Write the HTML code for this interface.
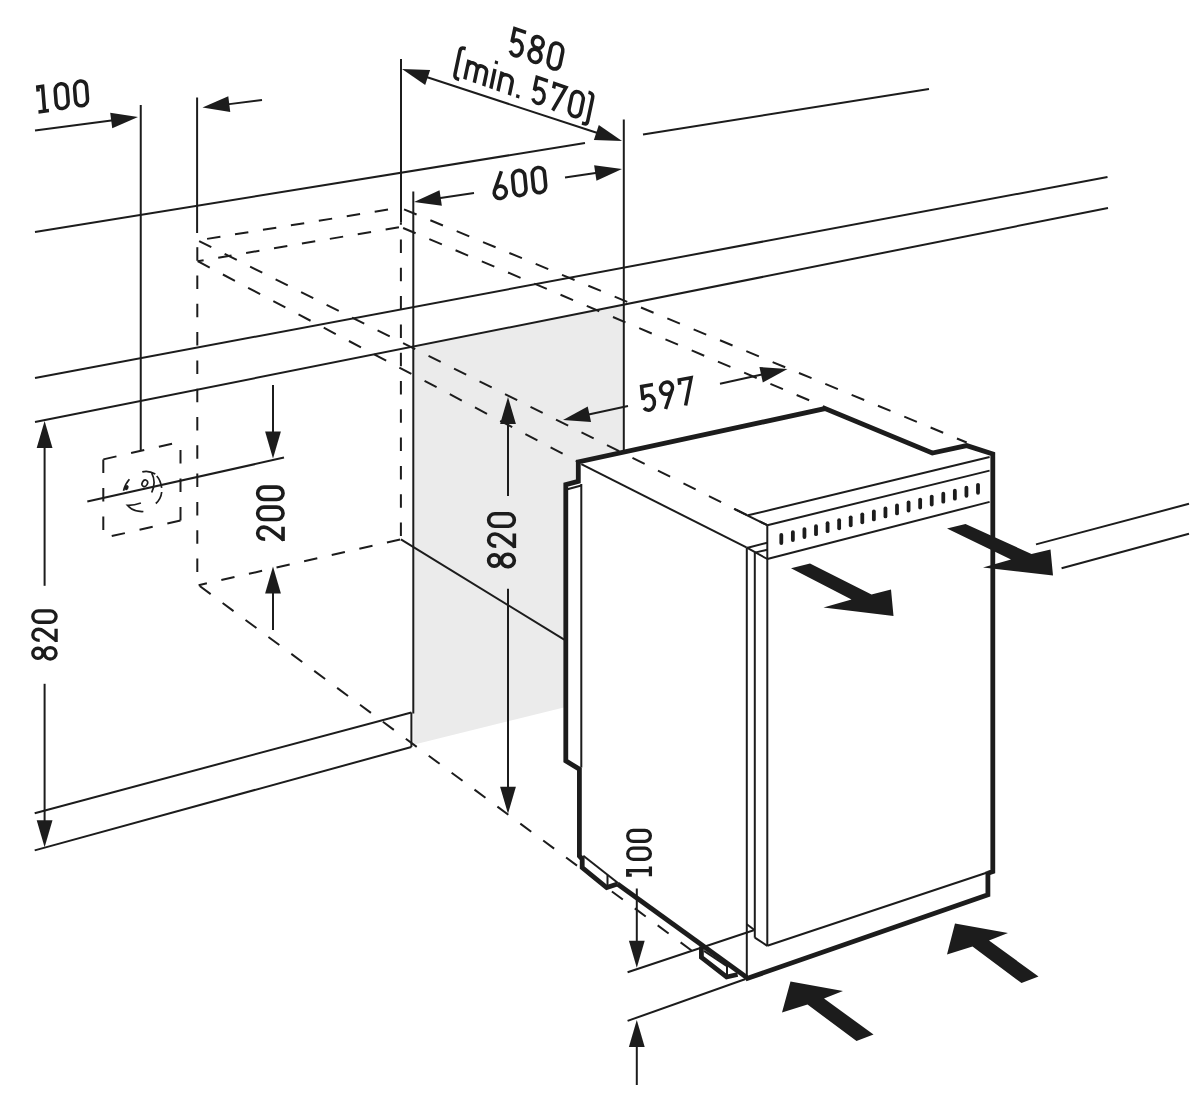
<!DOCTYPE html>
<html><head><meta charset="utf-8"><style>
html,body{margin:0;padding:0;background:#fff;}
svg{display:block;}
text{font-family:"Liberation Sans",sans-serif;fill:#1c1c1c;}
</style></head><body>
<svg width="1200" height="1096" viewBox="0 0 1200 1096">
<g stroke="#1c1c1c" fill="none" stroke-linecap="butt" stroke-linejoin="miter">
<polygon points="413.3,346.6 623.8,304.5 623.8,452.5 578.3,462 578.3,481.3 565.8,484.7 565.8,707 413.3,744.7" fill="#ebebeb" stroke="none"/>
<line x1="35" y1="130.5" x2="113.21" y2="120.25" stroke-width="2"/>
<polygon points="138,117 112.26,128.34 110.2,112.68" fill="#1c1c1c" stroke="none"/>
<line x1="140.75" y1="105" x2="140.75" y2="451" stroke-width="2"/>
<line x1="197.1" y1="97.5" x2="197.1" y2="233" stroke-width="2"/>
<line x1="197.3" y1="240.4" x2="197.3" y2="585.2" stroke-width="2" stroke-dasharray="13.5 14.8" stroke-dashoffset="21.5"/>
<line x1="262" y1="100" x2="227.3" y2="104.37" stroke-width="2"/>
<polygon points="202.5,107.5 228.3,96.29 230.28,111.96" fill="#1c1c1c" stroke="none"/>
<line x1="35" y1="232" x2="585" y2="143" stroke-width="2"/>
<line x1="643" y1="134.5" x2="929" y2="89" stroke-width="2"/>
<line x1="401" y1="59" x2="401" y2="222.5" stroke-width="2"/>
<line x1="623.8" y1="119.5" x2="623.8" y2="452" stroke-width="2"/>
<line x1="425.76" y1="76.78" x2="598.24" y2="133.22" stroke-width="2"/>
<polygon points="402,69 430.12,69.89 425.2,84.91" fill="#1c1c1c" stroke="none"/>
<polygon points="622,141 593.88,140.11 598.8,125.09" fill="#1c1c1c" stroke="none"/>
<line x1="413.3" y1="191.5" x2="413.3" y2="713.5" stroke-width="2"/>
<line x1="474" y1="193" x2="438.72" y2="198.29" stroke-width="2"/>
<polygon points="414,202 439.53,190.18 441.87,205.81" fill="#1c1c1c" stroke="none"/>
<line x1="565" y1="177.5" x2="597.27" y2="172.69" stroke-width="2"/>
<polygon points="622,169 596.46,180.8 594.13,165.17" fill="#1c1c1c" stroke="none"/>
<line x1="35" y1="378" x2="1107.5" y2="177" stroke-width="2"/>
<line x1="35" y1="422" x2="1108" y2="208" stroke-width="2"/>
<line x1="197.7" y1="240.4" x2="400.8" y2="207.5" stroke-width="2" stroke-dasharray="13.5 14.8" stroke-dashoffset="18.8"/>
<line x1="197.7" y1="261.2" x2="400.8" y2="226.9" stroke-width="2" stroke-dasharray="13.5 14.8" stroke-dashoffset="7.5"/>
<line x1="197.7" y1="240.4" x2="767.3" y2="525.2" stroke-width="2" stroke-dasharray="13.6 14.9" stroke-dashoffset="-1.6"/>
<line x1="197.7" y1="261.2" x2="578.3" y2="462" stroke-width="2" stroke-dasharray="13.6 14.9" stroke-dashoffset="0"/>
<line x1="400.8" y1="208" x2="966.7" y2="442.5" stroke-width="2" stroke-dasharray="13.6 14.9" stroke-dashoffset="-3.5"/>
<line x1="400.8" y1="227" x2="825" y2="407" stroke-width="2" stroke-dasharray="13.6 14.9" stroke-dashoffset="-2.5"/>
<line x1="400.9" y1="222.5" x2="400.9" y2="539.4" stroke-width="2" stroke-dasharray="13.5 14.8" stroke-dashoffset="11.3"/>
<line x1="198.6" y1="585.2" x2="400.9" y2="539.4" stroke-width="2" stroke-dasharray="13.5 14.8" stroke-dashoffset="5"/>
<line x1="198.6" y1="585.2" x2="699" y2="956" stroke-width="2" stroke-dasharray="13.6 14.9" stroke-dashoffset="-1.4"/>
<line x1="400.9" y1="539.4" x2="564.2" y2="639.6" stroke-width="2"/>
<line x1="34.7" y1="813.2" x2="411.4" y2="712.5" stroke-width="2"/>
<line x1="34.7" y1="850.4" x2="411.4" y2="747" stroke-width="2"/>
<line x1="411.4" y1="712.5" x2="411.4" y2="747" stroke-width="2"/>
<line x1="44.6" y1="585.8" x2="44.6" y2="446" stroke-width="2"/>
<polygon points="44.6,421 52.5,448 36.7,448" fill="#1c1c1c" stroke="none"/>
<line x1="44.6" y1="683.8" x2="44.6" y2="822.3" stroke-width="2"/>
<polygon points="44.6,847.3 36.7,820.3 52.5,820.3" fill="#1c1c1c" stroke="none"/>
<g transform="matrix(0,-0.923,0.923,0,57.6,660.512)" stroke-linecap="butt" stroke-linejoin="miter"><path transform="translate(0,0)" d="M2.3,-21.35 A5.5,5.5 0 1 0 13.3,-21.35 A5.5,5.5 0 1 0 2.3,-21.35 Z M1.65,-8.0 A6.15,6.35 0 1 0 13.95,-8.0 A6.15,6.35 0 1 0 1.65,-8.0 Z" fill="none" stroke="#1c1c1c" stroke-width="3.6"/><path transform="translate(19.9,0)" d="M1.95,-19.4 C1.95,-24.0 4.6,-26.85 7.8,-26.85 C11.1,-26.85 13.95,-24.3 13.95,-20.6 C13.95,-18.4 13.2,-16.7 11.7,-14.7 L1.2,-0.9 M0.2,-1.65 H14.4" fill="none" stroke="#1c1c1c" stroke-width="3.6"/><path transform="translate(39.8,0)" d="M1.65,-20.7 A6.15,6.15 0 0 1 13.95,-20.7 V-7.8 A6.15,6.15 0 0 1 1.65,-7.8 Z" fill="none" stroke="#1c1c1c" stroke-width="3.6"/></g>
<line x1="508" y1="496" x2="508" y2="422" stroke-width="2"/>
<polygon points="508,397 515.9,424 500.1,424" fill="#1c1c1c" stroke="none"/>
<line x1="508" y1="588.7" x2="508" y2="788.7" stroke-width="2"/>
<polygon points="508,813.7 500.1,786.7 515.9,786.7" fill="#1c1c1c" stroke="none"/>
<g transform="matrix(0,-1.018,1.018,0,516,568.436)" stroke-linecap="butt" stroke-linejoin="miter"><path transform="translate(0,0)" d="M2.3,-21.35 A5.5,5.5 0 1 0 13.3,-21.35 A5.5,5.5 0 1 0 2.3,-21.35 Z M1.65,-8.0 A6.15,6.35 0 1 0 13.95,-8.0 A6.15,6.35 0 1 0 1.65,-8.0 Z" fill="none" stroke="#1c1c1c" stroke-width="3.6"/><path transform="translate(19.9,0)" d="M1.95,-19.4 C1.95,-24.0 4.6,-26.85 7.8,-26.85 C11.1,-26.85 13.95,-24.3 13.95,-20.6 C13.95,-18.4 13.2,-16.7 11.7,-14.7 L1.2,-0.9 M0.2,-1.65 H14.4" fill="none" stroke="#1c1c1c" stroke-width="3.6"/><path transform="translate(39.8,0)" d="M1.65,-20.7 A6.15,6.15 0 0 1 13.95,-20.7 V-7.8 A6.15,6.15 0 0 1 1.65,-7.8 Z" fill="none" stroke="#1c1c1c" stroke-width="3.6"/></g>
<line x1="273" y1="385" x2="273" y2="433.5" stroke-width="2"/>
<polygon points="273,458.5 265.1,431.5 280.9,431.5" fill="#1c1c1c" stroke="none"/>
<line x1="273" y1="630" x2="273" y2="591.5" stroke-width="2"/>
<polygon points="273,566.5 280.9,593.5 265.1,593.5" fill="#1c1c1c" stroke="none"/>
<g transform="matrix(0,-1.007,1.007,0,284.7,541.194)" stroke-linecap="butt" stroke-linejoin="miter"><path transform="translate(0,0)" d="M1.95,-19.4 C1.95,-24.0 4.6,-26.85 7.8,-26.85 C11.1,-26.85 13.95,-24.3 13.95,-20.6 C13.95,-18.4 13.2,-16.7 11.7,-14.7 L1.2,-0.9 M0.2,-1.65 H14.4" fill="none" stroke="#1c1c1c" stroke-width="3.6"/><path transform="translate(19.9,0)" d="M1.65,-20.7 A6.15,6.15 0 0 1 13.95,-20.7 V-7.8 A6.15,6.15 0 0 1 1.65,-7.8 Z" fill="none" stroke="#1c1c1c" stroke-width="3.6"/><path transform="translate(39.8,0)" d="M1.65,-20.7 A6.15,6.15 0 0 1 13.95,-20.7 V-7.8 A6.15,6.15 0 0 1 1.65,-7.8 Z" fill="none" stroke="#1c1c1c" stroke-width="3.6"/></g>
<line x1="87.3" y1="501.6" x2="284" y2="457.6" stroke-width="2"/>
<line x1="103.3" y1="459.4" x2="180.5" y2="441.8" stroke-width="2" stroke-dasharray="13.5 15" stroke-dashoffset="0"/>
<line x1="180.5" y1="520.5" x2="180.5" y2="441.8" stroke-width="2" stroke-dasharray="13.5 15" stroke-dashoffset="0"/>
<line x1="180.5" y1="520.5" x2="103.3" y2="538" stroke-width="2" stroke-dasharray="13.5 15" stroke-dashoffset="0"/>
<line x1="103.3" y1="459.4" x2="103.3" y2="538" stroke-width="2" stroke-dasharray="13.5 15" stroke-dashoffset="0"/>
<path d="M142.3,471.9 Q148,470 155.3,473.9 M151.7,473.2 Q156.5,482 151.7,492.5 M156.7,476 Q160.5,480 161.7,487.9 M161.7,492 Q161,499 155.8,503.5 M140.9,503 Q134,505.5 127.4,505.3 Q133,512 143.4,511.5 M129.4,479.2 Q125,484 123.5,490.7" fill="none" stroke-width="1.7"/>
<ellipse cx="126.6" cy="487.6" rx="1.9" ry="2.6" transform="rotate(25 126.6 487.6)" fill="#1c1c1c" stroke="none"/>
<ellipse cx="144.8" cy="483.3" rx="2.6" ry="3.4" transform="rotate(30 144.8 483.3)" fill="none" stroke-width="1.6"/>
<line x1="628" y1="406" x2="587.44" y2="414.74" stroke-width="2"/>
<polygon points="563,420 587.73,406.59 591.06,422.04" fill="#1c1c1c" stroke="none"/>
<line x1="720" y1="383.75" x2="763.08" y2="374.34" stroke-width="2"/>
<polygon points="787.5,369 762.81,382.48 759.44,367.05" fill="#1c1c1c" stroke="none"/>
<g transform="matrix(0.968,-0.171,0.103,0.977,641.863,413.149)" stroke-linecap="butt" stroke-linejoin="miter"><path transform="translate(0,0)" d="M14.3,-26.85 H2.6 V-13.3 A6.15,7.6 0 1 1 2.76,-4.9" fill="none" stroke="#1c1c1c" stroke-width="3.6"/><path transform="translate(19.9,0)" d="M4.6,0 L13.25,-18.1 M13.95,-20.7 A6.15,6.15 0 1 0 1.65,-20.7 A6.15,6.15 0 1 0 13.95,-20.7 Z" fill="none" stroke="#1c1c1c" stroke-width="3.6"/><path transform="translate(39.8,0)" d="M1.65,-21.8 V-26.85 H13.95 L5.4,0" fill="none" stroke="#1c1c1c" stroke-width="3.6"/></g>
<g transform="matrix(0.962,0.331,-0.212,0.995,506.635,54.507)" stroke-linecap="butt" stroke-linejoin="miter"><path transform="translate(0,0)" d="M14.3,-26.85 H2.6 V-13.3 A6.15,7.6 0 1 1 2.76,-4.9" fill="none" stroke="#1c1c1c" stroke-width="3.6"/><path transform="translate(19.9,0)" d="M2.3,-21.35 A5.5,5.5 0 1 0 13.3,-21.35 A5.5,5.5 0 1 0 2.3,-21.35 Z M1.65,-8.0 A6.15,6.35 0 1 0 13.95,-8.0 A6.15,6.35 0 1 0 1.65,-8.0 Z" fill="none" stroke="#1c1c1c" stroke-width="3.6"/><path transform="translate(39.8,0)" d="M1.65,-20.7 A6.15,6.15 0 0 1 13.95,-20.7 V-7.8 A6.15,6.15 0 0 1 1.65,-7.8 Z" fill="none" stroke="#1c1c1c" stroke-width="3.6"/></g>
<g transform="matrix(0.926,0.328,-0.204,0.961,453.106,75.255)" stroke-linecap="butt" stroke-linejoin="miter"><path transform="translate(0,0)" d="M7.0,-29.9 H5.4 Q1.65,-29.9 1.65,-26.0 V-1.8 Q1.65,2.1 5.4,2.1 H7.0" fill="none" stroke="#1c1c1c" stroke-width="3.6"/><path transform="translate(11,0)" d="M1.65,-20.4 V0 M1.65,-13.4 C1.65,-17.3 3.9,-18.75 6.75,-18.75 C9.6,-18.75 11.85,-17.3 11.85,-13.4 V0 M11.85,-13.4 C11.85,-17.3 14.1,-18.75 16.95,-18.75 C19.8,-18.75 22.05,-17.3 22.05,-13.4 V0" fill="none" stroke="#1c1c1c" stroke-width="3.6"/><path transform="translate(39.1,0)" d="M1.65,-20.4 V0" fill="none" stroke="#1c1c1c" stroke-width="3.6"/><path transform="translate(39.1,0)" d="M0,-28.9 H3.3 V-25.6 H0 Z" fill="#1c1c1c" stroke="none"/><path transform="translate(46.8,0)" d="M1.65,-20.4 V0 M1.65,-13.4 C1.65,-17.3 4.3,-18.75 7.8,-18.75 C11.3,-18.75 13.95,-17.3 13.95,-13.4 V0" fill="none" stroke="#1c1c1c" stroke-width="3.6"/><path transform="translate(67.7,0)" d="M0,-3.5 H3.5 V0 H0 Z" fill="#1c1c1c" stroke="none"/><path transform="translate(82.2,0)" d="M14.3,-26.85 H2.6 V-13.3 A6.15,7.6 0 1 1 2.76,-4.9" fill="none" stroke="#1c1c1c" stroke-width="3.6"/><path transform="translate(102.1,0)" d="M1.65,-21.8 V-26.85 H13.95 L5.4,0" fill="none" stroke="#1c1c1c" stroke-width="3.6"/><path transform="translate(122,0)" d="M1.65,-20.7 A6.15,6.15 0 0 1 13.95,-20.7 V-7.8 A6.15,6.15 0 0 1 1.65,-7.8 Z" fill="none" stroke="#1c1c1c" stroke-width="3.6"/><path transform="translate(139.6,0)" d="M0,-29.9 H1.6 Q5.35,-29.9 5.35,-26.0 V-1.8 Q5.35,2.1 1.6,2.1 H0" fill="none" stroke="#1c1c1c" stroke-width="3.6"/></g>
<g transform="matrix(0.989,-0.148,0.099,0.995,493.32,201.274)" stroke-linecap="butt" stroke-linejoin="miter"><path transform="translate(0,0)" d="M11.0,-28.5 L2.35,-10.4 M1.65,-7.8 A6.15,6.15 0 1 0 13.95,-7.8 A6.15,6.15 0 1 0 1.65,-7.8 Z" fill="none" stroke="#1c1c1c" stroke-width="3.6"/><path transform="translate(19.9,0)" d="M1.65,-20.7 A6.15,6.15 0 0 1 13.95,-20.7 V-7.8 A6.15,6.15 0 0 1 1.65,-7.8 Z" fill="none" stroke="#1c1c1c" stroke-width="3.6"/><path transform="translate(39.8,0)" d="M1.65,-20.7 A6.15,6.15 0 0 1 13.95,-20.7 V-7.8 A6.15,6.15 0 0 1 1.65,-7.8 Z" fill="none" stroke="#1c1c1c" stroke-width="3.6"/></g>
<g transform="matrix(0.973,-0.137,0.079,0.979,38.29,113.571)" stroke-linecap="butt" stroke-linejoin="miter"><path transform="translate(0,0)" d="M1.65,-22.3 V-26.85 H6.6 V-1.65 M0.3,-1.65 H11.1" fill="none" stroke="#1c1c1c" stroke-width="3.6"/><path transform="translate(17.4,0)" d="M1.65,-20.7 A6.15,6.15 0 0 1 13.95,-20.7 V-7.8 A6.15,6.15 0 0 1 1.65,-7.8 Z" fill="none" stroke="#1c1c1c" stroke-width="3.6"/><path transform="translate(37.3,0)" d="M1.65,-20.7 A6.15,6.15 0 0 1 13.95,-20.7 V-7.8 A6.15,6.15 0 0 1 1.65,-7.8 Z" fill="none" stroke="#1c1c1c" stroke-width="3.6"/></g>
<line x1="636.8" y1="888.5" x2="636.8" y2="942.7" stroke-width="2"/>
<polygon points="636.8,967.7 628.9,940.7 644.7,940.7" fill="#1c1c1c" stroke="none"/>
<line x1="636.8" y1="1085" x2="636.8" y2="1045" stroke-width="2"/>
<polygon points="636.8,1020 644.7,1047 628.9,1047" fill="#1c1c1c" stroke="none"/>
<g transform="matrix(0,-0.902,0.902,0,651.9,876.501)" stroke-linecap="butt" stroke-linejoin="miter"><path transform="translate(0,0)" d="M1.65,-22.3 V-26.85 H6.6 V-1.65 M0.3,-1.65 H11.1" fill="none" stroke="#1c1c1c" stroke-width="3.6"/><path transform="translate(17.4,0)" d="M1.65,-20.7 A6.15,6.15 0 0 1 13.95,-20.7 V-7.8 A6.15,6.15 0 0 1 1.65,-7.8 Z" fill="none" stroke="#1c1c1c" stroke-width="3.6"/><path transform="translate(37.3,0)" d="M1.65,-20.7 A6.15,6.15 0 0 1 13.95,-20.7 V-7.8 A6.15,6.15 0 0 1 1.65,-7.8 Z" fill="none" stroke="#1c1c1c" stroke-width="3.6"/></g>
<line x1="627.6" y1="972.2" x2="753.7" y2="930.2" stroke-width="2"/>
<line x1="627.6" y1="1020.9" x2="745.6" y2="979" stroke-width="2"/>
<line x1="1036" y1="544.4" x2="1189" y2="503.8" stroke-width="2"/>
<line x1="1061.6" y1="568.2" x2="1189" y2="533.7" stroke-width="2"/>
<line x1="581.3" y1="464.2" x2="746.4" y2="547.4" stroke-width="2"/>
<line x1="581.3" y1="484" x2="581.3" y2="767.6" stroke-width="2"/>
<line x1="567.4" y1="489.3" x2="581.3" y2="485.5" stroke-width="2"/>
<line x1="746.8" y1="548" x2="746.8" y2="977.5" stroke-width="2"/>
<line x1="754.8" y1="552.6" x2="754.8" y2="937.7" stroke-width="2"/>
<line x1="767.3" y1="525.2" x2="767.3" y2="945.8" stroke-width="2"/>
<line x1="746.8" y1="548" x2="767.3" y2="542.7" stroke-width="2"/>
<line x1="754.8" y1="552.6" x2="767.3" y2="549.7" stroke-width="2"/>
<line x1="746.4" y1="547.4" x2="767.3" y2="559" stroke-width="2"/>
<line x1="754.8" y1="937.7" x2="767.3" y2="945.8" stroke-width="2"/>
<line x1="746.8" y1="924.3" x2="754.8" y2="930.2" stroke-width="2"/>
<line x1="748" y1="515.3" x2="989.6" y2="457" stroke-width="2"/>
<line x1="767.3" y1="525.2" x2="989.6" y2="470.6" stroke-width="2"/>
<line x1="767.3" y1="559" x2="989.6" y2="501.9" stroke-width="2"/>
<line x1="734" y1="508.8" x2="767.3" y2="525.2" stroke-width="2"/>
<line x1="767.3" y1="945.8" x2="988" y2="872.2" stroke-width="2"/>
<line x1="781.3" y1="535" x2="781.3" y2="543" stroke-width="3.8" stroke-linecap="round"/>
<line x1="792.87" y1="532.05" x2="792.87" y2="540.05" stroke-width="3.8" stroke-linecap="round"/>
<line x1="804.44" y1="529.09" x2="804.44" y2="537.09" stroke-width="3.8" stroke-linecap="round"/>
<line x1="816.01" y1="526.14" x2="816.01" y2="534.14" stroke-width="3.8" stroke-linecap="round"/>
<line x1="827.58" y1="523.19" x2="827.58" y2="531.19" stroke-width="3.8" stroke-linecap="round"/>
<line x1="839.15" y1="520.24" x2="839.15" y2="528.24" stroke-width="3.8" stroke-linecap="round"/>
<line x1="850.72" y1="517.28" x2="850.72" y2="525.28" stroke-width="3.8" stroke-linecap="round"/>
<line x1="862.29" y1="514.33" x2="862.29" y2="522.33" stroke-width="3.8" stroke-linecap="round"/>
<line x1="873.86" y1="511.38" x2="873.86" y2="519.38" stroke-width="3.8" stroke-linecap="round"/>
<line x1="885.44" y1="508.42" x2="885.44" y2="516.42" stroke-width="3.8" stroke-linecap="round"/>
<line x1="897.01" y1="505.47" x2="897.01" y2="513.47" stroke-width="3.8" stroke-linecap="round"/>
<line x1="908.58" y1="502.52" x2="908.58" y2="510.52" stroke-width="3.8" stroke-linecap="round"/>
<line x1="920.15" y1="499.56" x2="920.15" y2="507.56" stroke-width="3.8" stroke-linecap="round"/>
<line x1="931.72" y1="496.61" x2="931.72" y2="504.61" stroke-width="3.8" stroke-linecap="round"/>
<line x1="943.29" y1="493.66" x2="943.29" y2="501.66" stroke-width="3.8" stroke-linecap="round"/>
<line x1="954.86" y1="490.71" x2="954.86" y2="498.71" stroke-width="3.8" stroke-linecap="round"/>
<line x1="966.43" y1="487.75" x2="966.43" y2="495.75" stroke-width="3.8" stroke-linecap="round"/>
<line x1="978" y1="484.8" x2="978" y2="492.8" stroke-width="3.8" stroke-linecap="round"/>
<polyline points="617.5,884 606.7,887.5 582.2,867.5 582.2,859 579.4,856 579.4,769.2 565.8,760.8 565.8,484.7 578.3,481.3 578.3,462 825,408.6 932.3,453 966.7,445.6 992.8,454 992.8,871.5 987.9,873.2" stroke-width="4.8" fill="none"/>
<polyline points="987.9,871.5 987.9,894.7 745.6,979" stroke-width="4.8" fill="none"/>
<line x1="583.3" y1="855.8" x2="618.3" y2="883.3" stroke-width="2"/>
<polyline points="617.5,884 746.8,977.5" stroke-width="4.8" fill="none"/>
<line x1="607.5" y1="875" x2="607.5" y2="887" stroke-width="2"/>
<polyline points="701.4,946.4 701.4,957.3 726.6,977 737.6,974.5" stroke-width="4.8" fill="none"/>
<line x1="727" y1="966" x2="727" y2="976" stroke-width="2"/>
<line x1="704" y1="950.8" x2="726.6" y2="966" stroke-width="2"/>
<polygon points="791,568.2 810,563.5 871.5,594.5 891,589.5 893.5,616 823.5,607.5 851.5,599.5" fill="#1c1c1c" stroke="none"/>
<polygon points="947,528.5 965.5,524 1031.5,554 1050.5,549.5 1053,575.5 983,567.5 1011,559.5" fill="#1c1c1c" stroke="none"/>
<polygon points="782,1012.5 790.5,981.5 843,991 824,998.5 873.5,1034.5 856.5,1041 807.5,1004.5" fill="#1c1c1c" stroke="none"/>
<polygon points="947,954.5 955,923.5 1008,933 989,940.5 1038.5,976.5 1021.5,983 972.5,946.5" fill="#1c1c1c" stroke="none"/>
</g>
</svg>
</body></html>
